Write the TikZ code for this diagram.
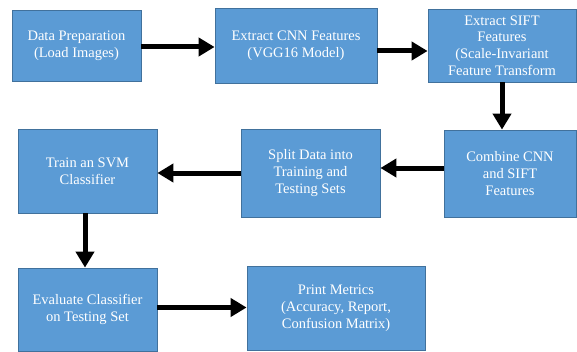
\documentclass[tikz,border=0pt]{standalone}
\usepackage{fontspec}
\setmainfont{Liberation Serif}
\usetikzlibrary{arrows.meta}
\definecolor{boxfill}{HTML}{5B9BD5}
\definecolor{boxline}{HTML}{41719C}
\begin{document}
\begin{tikzpicture}[x=1pt,y=1pt,
  box/.style={draw=boxline, line width=0.8pt, fill=boxfill, text=white,
    align=center, inner sep=2pt, font=\fontsize{14.5}{16.8}\selectfont},
  flow/.style={line width=5pt, -{Triangle[length=16pt,width=18pt]}}]
\useasboundingbox (0,0) rectangle (577,351);
\node[box, minimum width=129pt, minimum height=71pt] (prep) at (76.5,305.5) {Data Preparation\\(Load Images)};
\node[box, minimum width=162pt, minimum height=75pt] (cnn) at (296,305.5) {Extract CNN Features\\(VGG16 Model)};
\node[box, minimum width=148pt, minimum height=73pt] (sift) at (502,305.5) {Extract SIFT\\Features\\(Scale-Invariant\\Feature Transform};
\node[box, minimum width=132pt, minimum height=87pt] (comb) at (510,177.5) {Combine CNN\\and SIFT\\Features};
\node[box, minimum width=139pt, minimum height=88pt] (split) at (310.5,178) {Split Data into\\Training and\\Testing Sets};
\node[box, minimum width=139pt, minimum height=84pt] (train) at (87.5,180) {Train an SVM\\Classifier};
\node[box, minimum width=139pt, minimum height=83pt] (eval) at (87.5,41.5) {Evaluate Classifier\\on Testing Set};
\node[box, minimum width=178pt, minimum height=84pt] (print) at (336,43) {Print Metrics\\(Accuracy, Report,\\Confusion Matrix)};
\draw[flow] ([yshift=-1.5pt]prep.east) -- ([yshift=-1.5pt]prep.east -| cnn.west);
\draw[flow] ([yshift=-5.5pt]cnn.east) -- ([yshift=-5.5pt]cnn.east -| sift.west);
\draw[flow] (sift.south) -- (sift.south |- comb.north);
\draw[flow] ([yshift=5.5pt]comb.west) -- ([yshift=5.5pt]comb.west -| split.east);
\draw[flow] (split.west) -- (split.west -| train.east);
\draw[flow] ([xshift=-2.5pt]train.south) -- ([xshift=-2.5pt]train.south |- eval.north);
\draw[flow] ([yshift=2pt]eval.east) -- ([yshift=2pt]eval.east -| print.west);
\end{tikzpicture}
\end{document}
